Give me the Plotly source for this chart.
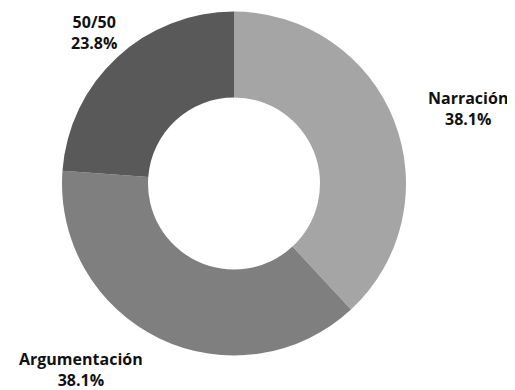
import math
import plotly.graph_objects as go

labels = ["Narración", "Argumentación", "50/50"]
values = [8, 8, 5]
colors = ["#a5a5a5", "#7f7f7f", "#595959"]
label_anchor = ["left", "right", "center"]

W, H = 507, 382
M = dict(l=54, r=109, t=3, b=34)
plot_w = W - M["l"] - M["r"]
plot_h = H - M["t"] - M["b"]
label_radius_px = 206

fig = go.Figure(go.Pie(
    labels=labels,
    values=values,
    hole=0.5,
    sort=False,
    direction="clockwise",
    rotation=0,
    marker=dict(colors=colors, line=dict(width=0)),
    textinfo="none",
    showlegend=False,
    automargin=False,
    hovertemplate="%{label}: %{percent:.1%}<extra></extra>",
))

total = sum(values)
cum = 0
for lab, v, anc in zip(labels, values, label_anchor):
    mid = (cum + v / 2) / total * 2 * math.pi
    cum += v
    x = 0.5 + label_radius_px * math.sin(mid) / plot_w
    y = 0.5 + label_radius_px * math.cos(mid) / plot_h
    fig.add_annotation(
        x=x, y=y, xref="paper", yref="paper",
        text=f"<b>{lab}<br>{v / total * 100:.1f}%</b>",
        showarrow=False, xanchor=anc, yanchor="middle", align="center",
        font=dict(family="Open Sans", size=16, color="#111111"),
    )

fig.update_layout(
    width=W, height=H,
    margin=M,
    paper_bgcolor="white",
    plot_bgcolor="white",
)
fig.write_html("out.html")
